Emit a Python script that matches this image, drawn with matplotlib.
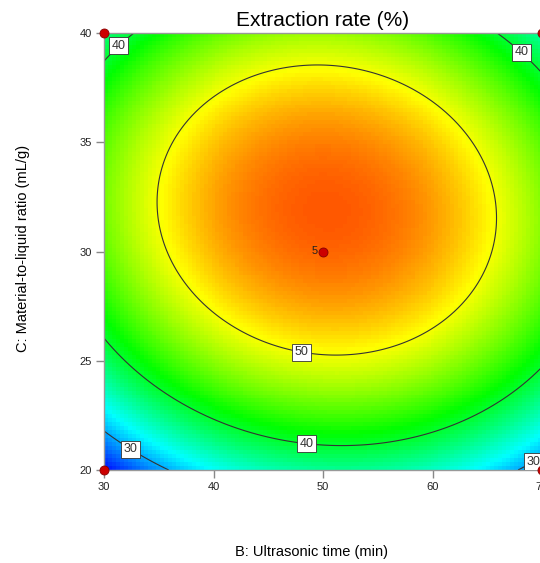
import numpy as np
import matplotlib.pyplot as plt
from matplotlib.colors import LinearSegmentedColormap

plt.rcParams['font.family'] = ['Liberation Sans', 'DejaVu Sans']

# axes ranges (actual units)
b_range = [30, 70]      # B: Ultrasonic time (min)
c_range = [20, 40]      # C: Material-to-liquid ratio (mL/g)

# quadratic model in coded units: b0, B, C, BC, B^2, C^2
coef = [55.6, 0.6, 5.3, -1.3, -10.2, -13.9]

# design points shown on the plot and replicate count label
design_b = [30, 70, 30, 70, 50]
design_c = [40, 40, 20, 20, 30]
center_count = '5'

contour_levels = [30, 40, 50]
label_pos = [(31.0, 39.6), (68.8, 39.5), (48.1, 25.6), (48.5, 21.3), (32.6, 21.1), (69.3, 20.3)]

color_min, color_max = 23.5, 59.2
de_cmap = LinearSegmentedColormap.from_list(
    'de', ['#0000ff', '#00ffff', '#00ff00', '#ffff00', '#ff0000'])


def model(b, c):
    x1 = (b - 50) / 20
    x2 = (c - 30) / 10
    return (coef[0] + coef[1] * x1 + coef[2] * x2 + coef[3] * x1 * x2
            + coef[4] * x1 ** 2 + coef[5] * x2 ** 2)


fig = plt.figure(figsize=(5.4, 5.63), dpi=100)
ax = fig.add_axes([104 / 540, 93 / 563, 438 / 540, 437 / 563])

# pixelated colour fill like the original software
nb, nc = 110, 110
bb = np.linspace(b_range[0], b_range[1], nb)
cc = np.linspace(c_range[0], c_range[1], nc)
B, C = np.meshgrid(bb, cc)
Z = model(B, C)
ax.imshow(Z, origin='lower', extent=[b_range[0], b_range[1], c_range[0], c_range[1]],
          cmap=de_cmap, vmin=color_min, vmax=color_max, aspect='auto',
          interpolation='nearest')

# smooth contour lines
bf = np.linspace(b_range[0], b_range[1], 400)
cf = np.linspace(c_range[0], c_range[1], 400)
BF, CF = np.meshgrid(bf, cf)
cs = ax.contour(BF, CF, model(BF, CF), levels=contour_levels,
                colors='#333333', linewidths=0.8)
texts = ax.clabel(cs, fmt='%d', inline=False, fontsize=9, manual=label_pos)
for t in texts:
    t.set_rotation(0)
    t.set_bbox(dict(boxstyle='square,pad=0.2', fc='white', ec='#333333', lw=0.6))
    t.set_zorder(5)

ax.plot(design_b, design_c, 'o', color='#cc0000', mec='#880000', mew=0.6,
        ms=6.5, clip_on=False, zorder=6)
ax.text(design_b[-1] - 0.5, design_c[-1], center_count, ha='right', va='center',
        fontsize=8, color='#222222', zorder=6)

ax.set_xlim(b_range)
ax.set_ylim(c_range)
ax.set_xticks([30, 40, 50, 60, 70])
ax.set_yticks([20, 25, 30, 35, 40])
ax.tick_params(direction='out', length=6, width=1, color='#888888',
               labelsize=8, labelcolor='#222222', pad=3)
for s in ax.spines.values():
    s.set_color('#999999')
    s.set_linewidth(1)

ax.set_title('Extraction rate (%)', fontsize=15, pad=5)
fig.text(312 / 540, 1 - 552 / 563, 'B: Ultrasonic time (min)', ha='center', va='center', fontsize=10.5)
fig.text(23 / 540, 1 - 248 / 563, 'C: Material-to-liquid ratio (mL/g)', ha='center', va='center',
         rotation=90, fontsize=10.5)

fig.savefig('out.png', dpi=100)
